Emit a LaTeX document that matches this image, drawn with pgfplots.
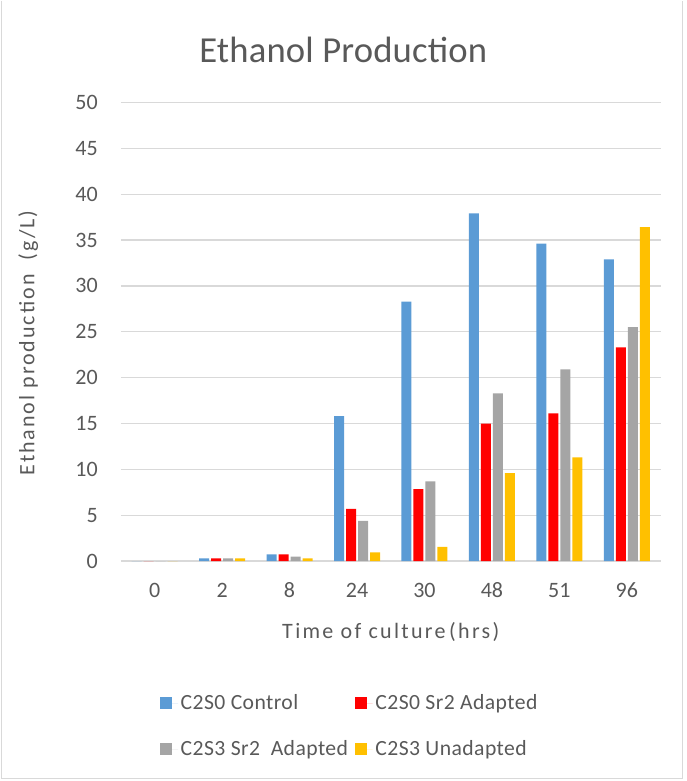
\documentclass[border=0pt]{standalone}
\usepackage{pgfplots}
\pgfplotsset{compat=1.18}
\usepackage{fontspec}
\setmainfont{Carlito}
\newfontfamily\titlefont[LetterSpace=0.5]{Carlito}
\newfontfamily\xlabelfont[LetterSpace=10.5]{Carlito}
\newfontfamily\ylabelfont[LetterSpace=9]{Carlito}
\newfontfamily\legendfont[LetterSpace=2]{Carlito}
\definecolor{txt}{HTML}{595959}
\definecolor{gridc}{HTML}{D9D9D9}
\definecolor{cblue}{HTML}{5B9BD5}
\definecolor{cred}{HTML}{FF0000}
\definecolor{cgray}{HTML}{A5A5A5}
\definecolor{cyel}{HTML}{FFC000}
\begin{document}
\begin{tikzpicture}
% page extent and chart frame
\path (0,0) rectangle (515.25pt,-585.75pt);
\draw[gridc, line width=0.75pt] (1.5pt,0) -- (1.5pt,-583.5pt) -- (512.5pt,-583.5pt) -- (512.5pt,0);
\begin{axis}[
  at={(90.75pt,-420.75pt)}, anchor=south west,
  scale only axis, width=405pt, height=344.25pt,
  xmin=-0.5, xmax=7.5, ymin=0, ymax=50,
  ytick={0,5,...,50},
  xtick={0,...,7},
  xticklabels={0,2,8,24,30,48,51,96},
  ybar=1.5pt, bar width=7.5pt,
  axis line style={draw=none},
  major tick length=0pt,
  ymajorgrids, grid style={gridc, line width=1pt},
  tick label style={font=\fontsize{16.5}{18}\selectfont, text=txt},
  /pgf/number format/assume math mode=true,
  yticklabel style={xshift=-13.9pt},
  xticklabel style={anchor=center, yshift=-21.75pt},
  title={Ethanol Production},
  title style={font=\titlefont\fontsize{27.5}{30}\selectfont, text=txt,
    at={(0.412,1.1155)}, anchor=center, yshift=-6pt},
  xlabel={Time of culture\,(hrs)},
  ylabel={Ethanol production\ \ (g/L)},
  xlabel style={font=\xlabelfont\fontsize{16.5}{18}\selectfont, text=txt,
    at={(0.5,-0.1547)}, anchor=center},
  ylabel style={font=\ylabelfont\fontsize{16.5}{18}\selectfont, text=txt,
    at={(-0.172,0.476)}, anchor=center},
  legend columns=2,
  legend cell align=left,
  legend style={draw=none, fill=none, at={(0.072,-0.285)}, anchor=north west,
    inner sep=0pt,
    font=\legendfont\fontsize{16.25}{18}\selectfont, text=txt, row sep=17.5pt,
    /tikz/every even column/.append style={column sep=3pt}},
  legend image code/.code={\fill[#1] (0pt,-4.5pt) rectangle (9pt,4.5pt);
    \path (0pt,0pt) -- (13.5pt,0pt);},
]
\addplot[draw=none, fill=cblue] coordinates {(0,0) (1,0.3) (2,0.73) (3,15.8) (4,28.3) (5,37.9) (6,34.6) (7,32.9)};
\addplot[draw=none, fill=cred] coordinates {(0,0) (1,0.3) (2,0.73) (3,5.7) (4,7.85) (5,15.0) (6,16.1) (7,23.3)};
\addplot[draw=none, fill=cgray] coordinates {(0,0) (1,0.3) (2,0.5) (3,4.4) (4,8.7) (5,18.3) (6,20.9) (7,25.5)};
\addplot[draw=none, fill=cyel] coordinates {(0,0) (1,0.3) (2,0.3) (3,0.95) (4,1.55) (5,9.6) (6,11.3) (7,36.4)};
\legend{C2S0 Control, C2S0 Sr2 Adapted, C2S3 Sr2\ \ Adapted, C2S3 Unadapted}
\end{axis}
\end{tikzpicture}
\end{document}
